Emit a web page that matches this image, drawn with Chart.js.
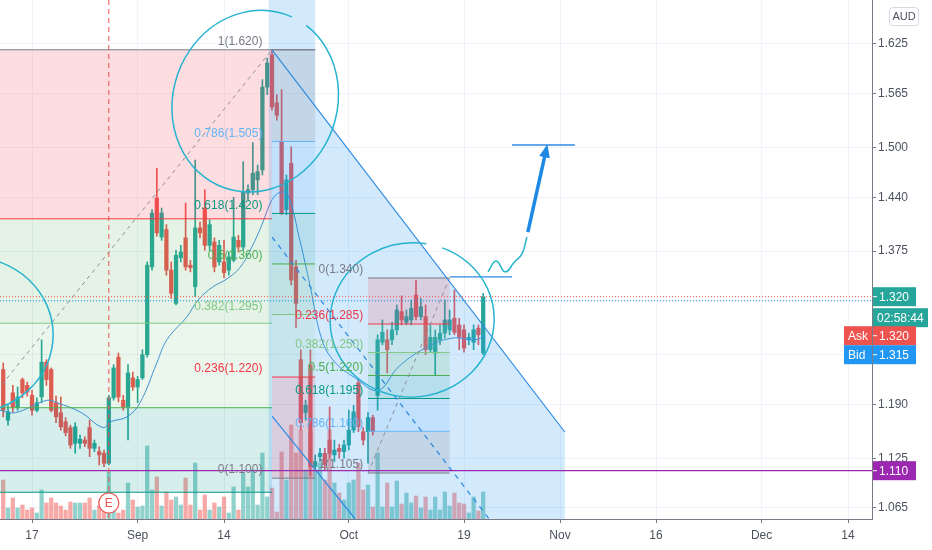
<!DOCTYPE html>
<html>
<head>
<meta charset="utf-8">
<script src="https://cdn.jsdelivr.net/npm/chart.js@4.4.1/dist/chart.umd.min.js"></script>
<style>
  html, body { margin: 0; padding: 0; background: #fff; }
  #wrap { width: 932px; height: 550px; }
</style>
</head>
<body>
<div id="wrap"><canvas id="myChart"></canvas></div>
<script>
// 12h bars, bar 0 = first visible candle (mid Aug)
var opens = [1.232,1.171,1.204,1.186,1.220,1.213,1.201,1.183,1.199,1.241,
  1.232,1.192,1.180,1.169,1.162,1.143,1.143,1.147,1.162,1.137,
  1.133,1.131,1.119,1.198,1.247,1.195,1.187,1.222,1.211,1.222,
  1.250,1.356,1.439,1.392,1.401,1.352,1.312,1.367,1.391,1.358,
  1.332,1.403,1.427,1.382,1.386,1.362,1.362,1.352,1.364,1.388,
  1.380,1.445,1.449,1.461,1.473,1.573,1.612,1.554,1.507,1.425,
  1.481,1.356,1.244,1.180,1.238,1.115,1.127,1.131,1.147,1.129,
  1.137,1.133,1.141,1.159,1.216,1.157,1.157,1.174,1.201,1.265,
  1.268,1.268,1.280,1.302,1.289,1.292,1.322,1.296,1.296,1.256,
  1.252,1.268,1.276,1.280,1.294,1.286,1.280,1.268,1.265,1.282,
  1.252];
var highs = [1.240,1.189,1.213,1.211,1.222,1.217,1.207,1.198,1.268,1.244,
  1.234,1.200,1.199,1.174,1.165,1.168,1.153,1.151,1.171,1.147,
  1.139,1.135,1.201,1.238,1.252,1.201,1.238,1.229,1.224,1.256,
  1.362,1.425,1.475,1.427,1.407,1.362,1.376,1.382,1.433,1.364,
  1.485,1.410,1.449,1.413,1.391,1.388,1.388,1.374,1.440,1.394,
  1.483,1.455,1.506,1.479,1.582,1.608,1.618,1.564,1.570,1.467,
  1.501,1.364,1.256,1.195,1.256,1.129,1.137,1.137,1.187,1.147,
  1.142,1.147,1.183,1.189,1.220,1.162,1.180,1.177,1.274,1.292,
  1.280,1.289,1.310,1.321,1.304,1.316,1.340,1.318,1.310,1.286,
  1.280,1.286,1.316,1.304,1.328,1.294,1.286,1.276,1.286,1.286,
  1.324];
var lows = [1.175,1.165,1.181,1.183,1.198,1.200,1.177,1.181,1.192,1.213,
  1.181,1.168,1.159,1.152,1.137,1.131,1.137,1.139,1.127,1.133,
  1.117,1.115,1.117,1.195,1.193,1.183,1.147,1.207,1.192,1.220,
  1.247,1.352,1.393,1.388,1.346,1.318,1.310,1.362,1.352,1.350,
  1.320,1.391,1.376,1.376,1.350,1.358,1.343,1.346,1.362,1.374,
  1.376,1.437,1.443,1.443,1.467,1.564,1.545,1.533,1.419,1.419,
  1.334,1.283,1.159,1.171,1.104,1.111,1.121,1.111,1.125,1.121,
  1.125,1.125,1.135,1.156,1.157,1.141,1.119,1.153,1.183,1.262,
  1.228,1.262,1.274,1.286,1.286,1.286,1.292,1.292,1.250,1.253,
  1.226,1.262,1.270,1.274,1.274,1.256,1.253,1.262,1.256,1.262,
  1.250];
var closes = [1.183,1.181,1.187,1.199,1.204,1.205,1.183,1.192,1.241,1.220,
  1.183,1.175,1.163,1.156,1.141,1.163,1.148,1.143,1.137,1.143,
  1.129,1.119,1.198,1.234,1.199,1.187,1.228,1.211,1.220,1.250,
  1.358,1.421,1.397,1.421,1.352,1.324,1.370,1.374,1.356,1.355,
  1.403,1.397,1.382,1.407,1.356,1.382,1.349,1.368,1.392,1.380,
  1.446,1.449,1.469,1.471,1.573,1.602,1.549,1.539,1.421,1.461,
  1.340,1.312,1.168,1.189,1.115,1.121,1.131,1.117,1.131,1.135,
  1.133,1.141,1.159,1.181,1.163,1.147,1.174,1.157,1.268,1.277,
  1.256,1.280,1.304,1.292,1.296,1.306,1.296,1.308,1.256,1.271,
  1.271,1.276,1.292,1.292,1.277,1.271,1.258,1.271,1.280,1.274,
  1.320];
var volumes = [39,11,21,11,14,9,11,6,29,16,
  21,16,13,9,17,16,16,16,21,9,
  13,16,47,19,6,9,36,19,12,13,
  73,29,42,13,27,19,22,14,41,14,
  56,9,24,9,16,12,22,6,32,9,
  46,32,49,14,66,22,31,7,67,39,
  94,66,89,49,86,49,56,39,89,36,
  26,19,36,39,56,29,34,12,66,12,
  36,12,38,15,26,16,23,11,22,9,
  22,9,27,13,26,16,15,6,22,8,
  27];

// moving average: [bar, price]
var maLine = [[-0.7,1.183],[2.5,1.180],[9.1,1.195],[11.2,1.192],[16,1.181],[20.8,1.162],
  [22.3,1.169],[25.8,1.175],[28.5,1.192],[32,1.240],[34.1,1.268],[38.3,1.296],[40.6,1.316],
  [43.7,1.332],[46.2,1.340],[49.3,1.355],[51.8,1.380],[53.9,1.407],[56,1.437],[57.7,1.446],
  [59.3,1.443],[61.8,1.388],[63.9,1.334],[66.4,1.268],[69.1,1.241],[73.3,1.222],[78.1,1.207],
  [82.3,1.235],[87.9,1.258],[93.5,1.270],[98.3,1.268],[100.4,1.273]];

// time axis
var tickBars = [6, 28, 46, 72, 96, 116, 136, 158, 176];
var tickNames = ['17', 'Sep', '14', 'Oct', '19', 'Nov', '16', 'Dec', '14'];
var priceTicks = [1.065, 1.125, 1.190, 1.250, 1.315, 1.375, 1.440, 1.500, 1.565, 1.625];

// fib retracements
var fibLevels = [1, 0.786, 0.618, 0.5, 0.382, 0.236, 0];
var fib1Text = ['1(1.620)', '0.786(1.505)', '0.618(1.420)', '0.5(1.360)', '0.382(1.295)', '0.236(1.220)', '0(1.100)'];
var fib2Levels = [0, 0.236, 0.382, 0.5, 0.618, 0.786, 1];
var fib2Text = ['0(1.340)', '0.236(1.285)', '0.382(1.250)', '0.5(1.220)', '0.618(1.195)', '0.786(1.160)', '1(1.105)'];
var lastPrice = 1.320, askPrice = 1.320, bidPrice = 1.315, alertPrice = 1.110;
var earningsBar = 22;

var squiggle = [[101,1.350],[102.7,1.363],[104.6,1.350],[106.5,1.362],[108.1,1.372],[109.1,1.392]];

var GREEN = '#26a69a', RED = '#ef5350';
var levelColor = {1: '#787b86', 0.786: '#64b5f6', 0.618: '#089981', 0.5: '#4caf50', 0.382: '#81c784', 0.236: '#f23645', 0: '#787b86'};
var levelFill = {1: 'rgba(120,123,134,0.18)', 0.786: 'rgba(33,150,243,0.1)', 0.618: 'rgba(0,150,136,0.14)',
  0.5: 'rgba(76,175,80,0.14)', 0.382: 'rgba(129,199,132,0.14)', 0.236: 'rgba(242,54,69,0.16)'};

var bars = opens.map(function (o, i) { return i; });
var up = bars.map(function (i) { return closes[i] >= opens[i]; });
var FONT = '"Liberation Sans", Arial, sans-serif';

function line(c, x1, y1, x2, y2, color, w, dash) {
  c.save();
  c.strokeStyle = color; c.lineWidth = w || 1;
  c.setLineDash(dash || []);
  c.beginPath(); c.moveTo(x1, y1); c.lineTo(x2, y2); c.stroke();
  c.restore();
}

var drawings = {
  id: 'drawings',
  afterDatasetsDraw: function (chart) {
    var c = chart.ctx, a = chart.chartArea;
    var xs = chart.scales.x, ys = chart.scales.y;
    var X = function (v) { return xs.getPixelForValue(v); };
    var Y = function (v) { return ys.getPixelForValue(v); };
    c.save();
    c.beginPath(); c.rect(a.left, a.top, a.right - a.left, a.bottom - a.top); c.clip();

    // left zone bands
    var zl = X(-0.7), zr = X(56);
    var zone = [[1.618, 1.414, 'rgba(242,54,69,0.17)'], [1.414, 1.288, 'rgba(76,175,80,0.15)'],
      [1.288, 1.186, 'rgba(76,175,80,0.11)'], [1.186, 1.084, 'rgba(0,150,136,0.16)']];
    zone.forEach(function (b) { c.fillStyle = b[2]; c.fillRect(zl, Y(b[0]), zr - zl, Y(b[1]) - Y(b[0])); });
    line(c, zl, Y(1.414), zr, Y(1.414), '#f23645', 1);
    line(c, zl, Y(1.288), zr, Y(1.288), '#81c784', 1);
    line(c, zl, Y(1.186), zr, Y(1.186), '#4caf50', 1);
    line(c, zl, Y(1.084), zr, Y(1.084), '#089981', 1);

    // blue range zone
    var blue = [[55.3, 1.70], [65, 1.70], [65, 1.550], [117, 1.1567], [117, 1.0], [55.3, 1.0]];
    c.fillStyle = 'rgba(33,150,243,0.2)';
    c.beginPath();
    blue.forEach(function (p, k) { if (k) c.lineTo(X(p[0]), Y(p[1])); else c.moveTo(X(p[0]), Y(p[1])); });
    c.closePath(); c.fill();

    // fib 1 strip
    var H1 = 1.618, L1 = 1.101, f1l = X(56), f1r = X(65);
    var P1 = function (l) { return L1 + l * (H1 - L1); };
    for (var k = 0; k < fibLevels.length - 1; k++) {
      c.fillStyle = levelFill[fibLevels[k]];
      c.fillRect(f1l, Y(P1(fibLevels[k])), f1r - f1l, Y(P1(fibLevels[k + 1])) - Y(P1(fibLevels[k])));
    }
    fibLevels.forEach(function (l) { line(c, f1l, Y(P1(l)), f1r, Y(P1(l)), levelColor[l], 1); });
    line(c, zl, Y(H1), f1r, Y(H1), '#787b86', 1);

    // fib 2 box
    var H2 = 1.3426, L2 = 1.1072, f2l = X(76), f2r = X(93);
    var P2 = function (l) { return H2 - l * (H2 - L2); };
    for (k = 0; k < fib2Levels.length - 1; k++) {
      c.fillStyle = levelFill[fib2Levels[k + 1]];
      c.fillRect(f2l, Y(P2(fib2Levels[k])), f2r - f2l, Y(P2(fib2Levels[k + 1])) - Y(P2(fib2Levels[k])));
    }
    fib2Levels.forEach(function (l) { line(c, f2l, Y(P2(l)), f2r, Y(P2(l)), levelColor[l], 1); });

    // fib trend lines (dashed)
    line(c, X(-16), Y(L1), X(56), Y(H1), '#8a8d96', 1, [4, 4]);
    line(c, X(76), Y(L2), X(93), Y(H2), '#8a8d96', 1, [4, 4]);
    line(c, X(56), Y(1.392), X(101.4), Y(1.0505), '#2f8ae0', 1.3, [5, 5]);

    // trend lines
    line(c, X(56), Y(1.6178), X(117), Y(1.1567), '#2f8ae0', 1.2);
    line(c, X(56), Y(1.176), X(73.3), Y(1.052), '#2f8ae0', 1.2);
    line(c, X(93.1), Y(1.344), X(106), Y(1.344), '#2f8ae0', 1.2);
    line(c, X(106), Y(1.503), X(119.1), Y(1.503), '#2f8ae0', 1.5);

    // horizontal price lines
    line(c, a.left, Y(alertPrice), a.right, Y(alertPrice), '#9c27b0', 1.2);
    line(c, a.left, Y(askPrice), a.right, Y(askPrice), '#ef5350', 1, [1, 2]);
    line(c, a.left, Y(bidPrice) , a.right, Y(bidPrice), '#2196f3', 1, [1, 2]);
    line(c, X(earningsBar), a.top, X(earningsBar), a.bottom, '#ef5350', 1, [5, 4]);

    // hand drawn circles
    var ells = [[52.5, 1.556, 17.1, 0.111, 0.35, -1.3, 4.78],
      [85.2, 1.292, 17.1, 0.093, -0.1, -1.1, 4.98],
      [-6.9, 1.274, 17.3, 0.094, 0, 0, 6.29]];
    c.strokeStyle = '#26b3cf'; c.lineWidth = 1.5;
    ells.forEach(function (e) {
      var cx = X(e[0]), cy = Y(e[1]);
      var rx = Math.abs(X(e[0] + e[2]) - cx), ry = Math.abs(Y(e[1] + e[3]) - cy);
      c.beginPath(); c.ellipse(cx, cy, rx, ry, e[4], e[5], e[6]); c.stroke();
    });

    // arrow
    var ax1 = X(109.3), ay1 = Y(1.398), ax2 = X(113.1), ay2 = Y(1.497);
    line(c, ax1, ay1, ax2, ay2, '#1e88e5', 3.5);
    var ang = Math.atan2(ay2 - ay1, ax2 - ax1);
    c.fillStyle = '#1e88e5';
    c.beginPath();
    c.moveTo(ax2 + 6 * Math.cos(ang), ay2 + 6 * Math.sin(ang));
    c.lineTo(ax2 + 9 * Math.cos(ang + 2.5), ay2 + 9 * Math.sin(ang + 2.5));
    c.lineTo(ax2 + 9 * Math.cos(ang - 2.5), ay2 + 9 * Math.sin(ang - 2.5));
    c.closePath(); c.fill();

    // fib labels
    c.font = '12px ' + FONT; c.textAlign = 'right'; c.textBaseline = 'bottom';
    fibLevels.forEach(function (l, k) { c.fillStyle = levelColor[l]; c.fillText(fib1Text[k], X(54), Y(P1(l)) - 2); });
    fib2Levels.forEach(function (l, k) { c.fillStyle = levelColor[l]; c.fillText(fib2Text[k], X(75), Y(P2(l)) - 2); });
    c.restore();

    // earnings marker
    c.save();
    var ex = X(earningsBar), ey = a.bottom - 16;
    c.beginPath(); c.arc(ex, ey, 10, 0, Math.PI * 2);
    c.fillStyle = '#fff'; c.fill(); c.strokeStyle = '#ef5350'; c.lineWidth = 1.2; c.stroke();
    c.fillStyle = '#ef5350'; c.font = '12px ' + FONT; c.textAlign = 'center'; c.textBaseline = 'middle';
    c.fillText('E', ex, ey + 1);
    c.restore();
  },
  afterDraw: function (chart) {
    var c = chart.ctx, a = chart.chartArea, ys = chart.scales.y;
    var x0 = a.right + 1;
    function tag(x, yc, w, bg, text, dash) {
      c.fillStyle = bg; c.fillRect(x, yc - 9.5, w, 19);
      if (dash) line(c, x, yc, x + 4, yc, '#fff', 1);
      c.fillStyle = '#fff'; c.font = '12px ' + FONT; c.textAlign = 'left'; c.textBaseline = 'middle';
      c.fillText(text, x + (dash ? 6 : 4), yc + 1);
    }
    var yl = ys.getPixelForValue(lastPrice);
    c.save();
    tag(x0, yl, 43, GREEN, lastPrice.toFixed(3), true);
    tag(x0, yl + 21, 55, GREEN, '02:58:44', false);
    tag(x0 - 29, yl + 39, 28, RED, 'Ask', false);
    tag(x0, yl + 39, 43, RED, askPrice.toFixed(3), true);
    tag(x0 - 29, yl + 58, 28, '#2196f3', 'Bid', false);
    tag(x0, yl + 58, 43, '#2196f3', bidPrice.toFixed(3), true);
    tag(x0, ys.getPixelForValue(alertPrice), 43, '#9c27b0', alertPrice.toFixed(3), true);
    // currency badge
    c.strokeStyle = '#d6d9e0'; c.lineWidth = 1; c.fillStyle = '#fff';
    c.beginPath(); c.roundRect(889.5, 7.5, 29, 18, 3); c.fill(); c.stroke();
    c.fillStyle = '#4c525e'; c.font = '11px ' + FONT; c.textAlign = 'center'; c.textBaseline = 'middle';
    c.fillText('AUD', 904, 17);
    c.restore();
  }
};

var ctx = document.getElementById('myChart').getContext('2d');
var myChart = new Chart(ctx, {
  type: 'bar',
  plugins: [drawings],
  data: {
    datasets: [{
      type: 'line',
      label: 'MA',
      data: maLine.map(function (p) { return {x: p[0], y: p[1]}; }),
      borderColor: '#3f8fdf',
      borderWidth: 1,
      pointRadius: 0,
      tension: 0.4,
      order: 1
    }, {
      type: 'line',
      label: 'sketch',
      data: squiggle.map(function (p) { return {x: p[0], y: p[1]}; }),
      borderColor: '#26b3cf',
      borderWidth: 1.5,
      pointRadius: 0,
      tension: 0.45,
      order: 1
    }, {
      label: 'Body',
      data: bars.map(function (i) { return {x: i, y: [opens[i], closes[i]]}; }),
      backgroundColor: bars.map(function (i) { return up[i] ? GREEN : RED; }),
      barThickness: 3.6,
      minBarLength: 1,
      grouped: false,
      order: 2
    }, {
      label: 'Wick',
      data: bars.map(function (i) { return {x: i, y: [lows[i], highs[i]]}; }),
      backgroundColor: bars.map(function (i) { return up[i] ? GREEN : RED; }),
      barThickness: 1,
      grouped: false,
      order: 3
    }, {
      label: 'Volume',
      yAxisID: 'v',
      data: bars.map(function (i) { return {x: i, y: volumes[i]}; }),
      backgroundColor: bars.map(function (i) { return up[i] ? 'rgba(38,166,154,0.5)' : 'rgba(239,83,80,0.5)'; }),
      barThickness: 3.6,
      grouped: false,
      order: 4
    }]
  },
  options: {
    responsive: true,
    maintainAspectRatio: false,
    animation: false,
    devicePixelRatio: 1,
    layout: { padding: 0 },
    plugins: { legend: { display: false }, tooltip: { enabled: false } },
    scales: {
      x: {
        type: 'linear',
        min: -0.67,
        max: 181,
        offset: false,
        afterFit: function (s) { s.height = 31; s.paddingLeft = 0; s.paddingRight = 0; },
        afterBuildTicks: function (s) { s.ticks = tickBars.map(function (v) { return {value: v}; }); },
        grid: { offset: false, color: '#f0f3fa', tickLength: 4, tickColor: '#787b86' },
        border: { color: '#787b86' },
        ticks: {
          autoSkip: false,
          maxRotation: 0,
          padding: 5,
          color: '#4c525e',
          font: { size: 12, family: FONT },
          callback: function (v) { var k = tickBars.indexOf(v); return k < 0 ? '' : tickNames[k]; }
        }
      },
      y: {
        position: 'right',
        min: 1.0517,
        max: 1.6781,
        afterFit: function (s) { s.width = 60; s.paddingTop = 0; s.paddingBottom = 0; },
        afterBuildTicks: function (s) { s.ticks = priceTicks.map(function (v) { return {value: v}; }); },
        grid: { color: '#f0f3fa', tickLength: 4, tickColor: '#787b86' },
        border: { color: '#787b86' },
        ticks: {
          padding: 2,
          color: '#4c525e',
          font: { size: 12, family: FONT },
          callback: function (v) { return v.toFixed(3); }
        }
      },
      v: {
        display: false,
        min: 0,
        max: 519
      }
    }
  }
});
</script>
</body>
</html>
